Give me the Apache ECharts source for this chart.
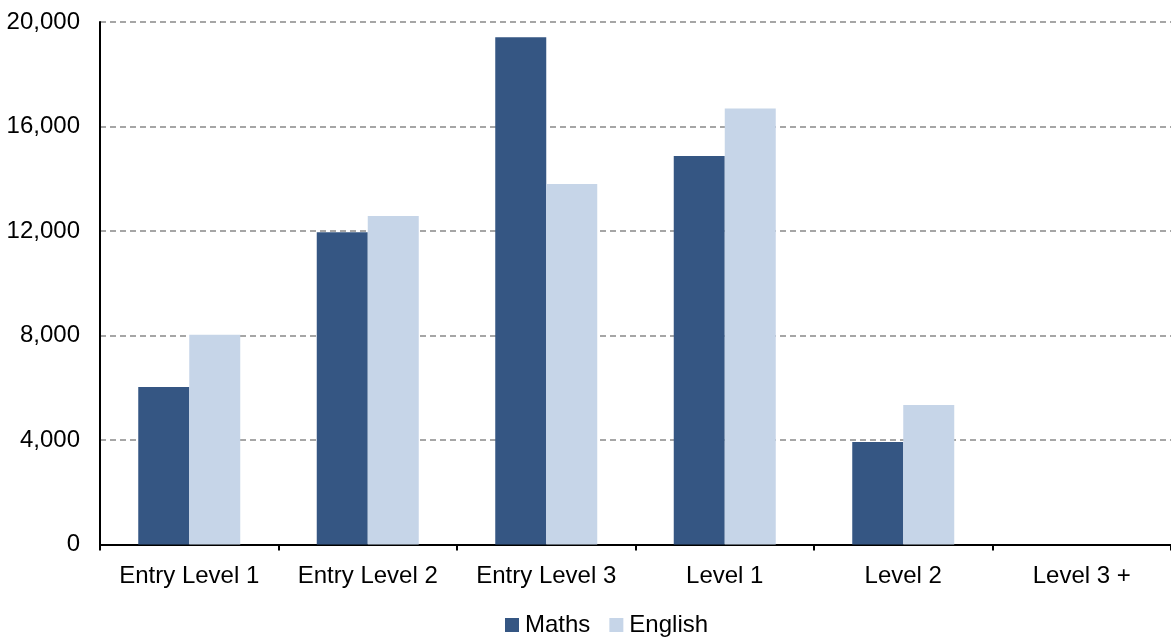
<!DOCTYPE html>
<html>
<head>
<meta charset="utf-8">
<script src="https://cdn.jsdelivr.net/npm/echarts@6/dist/echarts.min.js"></script>
<style>
html,body{margin:0;padding:0;background:#fff;}
#chart{width:1171px;height:638px;}
</style>
</head>
<body>
<div id="chart"></div>
<script>
const categories = ['Entry Level 1', 'Entry Level 2', 'Entry Level 3', 'Level 1', 'Level 2', 'Level 3 +'];
const mathsValues = [6030, 11950, 19420, 14870, 3920, 0];
const englishValues = [8030, 12570, 13800, 16690, 5340, 0];
const yTicks = [0, 4000, 8000, 12000, 16000, 20000];

const font = 'Liberation Sans, Arial, sans-serif';
const chart = echarts.init(document.getElementById('chart'), null, {renderer: 'canvas'});
chart.setOption({
  animation: false,
  backgroundColor: '#ffffff',
  grid: {left: 100, right: 0, top: 22, bottom: 93.5, containLabel: false},
  legend: {
    top: 608,
    left: 500,
    itemWidth: 14,
    itemHeight: 14,
    itemGap: 19,
    icon: 'rect',
    textStyle: {fontFamily: font, fontSize: 24, color: '#000', padding: [0, 0, 0, 1]},
    data: ['Maths', 'English']
  },
  xAxis: {
    type: 'category',
    data: categories,
    axisLine: {lineStyle: {color: '#000', width: 2}},
    axisTick: {show: true, interval: 0, length: 6, lineStyle: {color: '#000', width: 2}},
    axisLabel: {interval: 0, hideOverlap: false, fontFamily: font, fontSize: 24, color: '#000', margin: 20}
  },
  yAxis: {
    type: 'value',
    min: yTicks[0],
    max: yTicks[yTicks.length - 1],
    interval: 4000,
    axisLine: {show: true, lineStyle: {color: '#000', width: 2}},
    axisTick: {show: false},
    axisLabel: {
      fontFamily: font, fontSize: 24, color: '#000', margin: 20,
      formatter: v => v.toLocaleString('en-US')
    },
    splitLine: {show: true, lineStyle: {color: '#a6a6a6', width: 2, type: [6, 4]}}
  },
  series: [
    {name: 'Maths', type: 'bar', data: mathsValues, barWidth: 51, barGap: '0%',
     itemStyle: {color: '#355683'}},
    {name: 'English', type: 'bar', data: englishValues, barWidth: 51, barGap: '0%',
     itemStyle: {color: '#c6d5e8'}}
  ]
});
</script>
</body>
</html>
